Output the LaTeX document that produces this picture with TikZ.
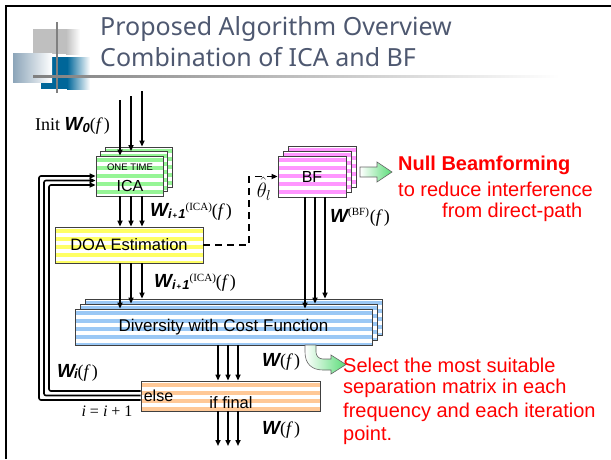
\documentclass[tikz,border=0pt]{standalone}
\usepackage{fontspec}
\setmainfont{Liberation Serif}
\setsansfont{Liberation Sans}
\newfontfamily\titlefont{Noto Sans}
\usetikzlibrary{arrows.meta,calc}

\definecolor{titleink}{RGB}{78,88,112}
\definecolor{icagreen}{RGB}{150,245,150}
\definecolor{bfpink}{RGB}{255,150,255}
\definecolor{doayellow}{RGB}{255,255,100}
\definecolor{divblue}{RGB}{155,200,245}
\definecolor{finorange}{RGB}{255,200,150}
\definecolor{arrowgreen}{RGB}{90,220,120}
\definecolor{logoblue}{RGB}{0,102,153}
\definecolor{logosky}{RGB}{140,165,185}

\newcommand{\fs}[1]{\fontsize{#1}{#1}\selectfont}
\newcommand{\Wb}{{\sffamily\bfseries\itshape W}}
\newcommand{\paren}[1]{{\rmfamily(\textit{#1}\kern1pt)}}
\newcommand{\WicaLabel}{\fs{19}\Wb\raisebox{-2pt}{\fs{13}\sffamily\bfseries\itshape i\kern1pt{\fs{8}\upshape+}\kern1pt1}\raisebox{6pt}{\fs{11}\rmfamily(ICA)}{\fs{18}\paren{f}}}

\tikzset{
  striped/.style={draw=black!75, line width=0.8pt, fill=white, inner sep=0pt,
    path picture={
      \foreach \k in {0,...,12}{
        \fill[#1] ([yshift={-\k*8pt-2pt}]path picture bounding box.north west)
          rectangle ([yshift={-\k*8pt-6pt}]path picture bounding box.north east);}}},
  icabox/.style={striped=icagreen, minimum width=67pt, minimum height=40pt},
  bfbox/.style={striped=bfpink, minimum width=68pt, minimum height=41pt},
  doabox/.style={striped=doayellow, minimum width=148pt, minimum height=36pt},
  divbox/.style={striped=divblue, minimum width=297pt, minimum height=36pt},
  finbox/.style={striped=finorange, minimum width=179pt, minimum height=30pt},
  boxtext/.style={font=\sffamily\fs{17}, inner sep=0pt},
  flow/.style={line width=1.6pt, -{Triangle[length=6pt,width=5pt]}},
  note/.style={font=\sffamily\fs{20}, text=red, anchor=west, inner sep=0pt},
  label/.style={inner sep=0pt},
  blockarrow/.style={draw=black!60, line width=0.6pt, left color=white, right color=arrowgreen}
}

\begin{document}
\begin{tikzpicture}[x=1pt,y=-1pt]
\useasboundingbox (0,0) rectangle (611,459);

% slide frame
\draw[line width=2pt] (6,459) -- (6,6) -- (611,6);

% title ornament
\fill[black!25] (33,29) rectangle (66,54);
\fill[left color=black!25, right color=white] (66,29) rectangle (80,54);
\fill[logoblue] (41,57) rectangle (67,89);
\fill[left color=logoblue, right color=white] (67,57) rectangle (90,89);
\fill[left color=logosky, right color=white] (13,53) rectangle (52,82);
\draw[black!50, line width=2pt] (57,22) -- (57,93);
\fill[left color=black!50, right color=white] (33,75) rectangle (560,77);

% title
\node[anchor=base west, inner sep=0pt, font=\titlefont\fs{25}, text=titleink] (title1) at (100,35) {Proposed Algorithm Overview};
\node[anchor=base west, inner sep=0pt, font=\titlefont\fs{25}, text=titleink] (title2) at (100,66) {Combination of ICA and BF};

% stacked processing blocks
\node[icabox] (ica3) at (138.5,167) {};
\node[icabox] (ica2) at (134,171.5) {};
\node[icabox] (ica1) at (129.5,176) {};
\node[boxtext, font=\sffamily\fs{9.5}] (onetime) at (130,167) {ONE TIME};
\node[boxtext, font=\sffamily\fs{16}] (icatext) at (130,186) {ICA};

\node[bfbox] (bf3) at (322,166.5) {};
\node[bfbox] (bf2) at (317,171.5) {};
\node[bfbox] (bf1) at (312,176.5) {\sffamily\fs{16}BF};

\node[doabox] (doa) at (129,245) {\sffamily\fs{16.5}DOA Estimation};

\node[divbox] (div3) at (233.5,317) {};
\node[divbox] (div2) at (228.5,322) {};
\node[divbox] (div1) at (223.5,327) {\sffamily\fs{17}Diversity with Cost Function};

\node[finbox] (fin) at (230.5,396) {};
\node[boxtext, font=\sffamily\fs{16}] (elsetext) at (158.5,396) {else};
\node[boxtext, font=\sffamily\fs{16.5}] (iftext) at (231,403) {if final};

% column positions of the triple signal lines
\coordinate (in1) at (120,100);
\coordinate (in2) at (131,96);
\coordinate (in3) at (142,91);
\coordinate (bc1) at (305,0);
\coordinate (bc2) at (315,0);
\coordinate (bc3) at (325,0);
\coordinate (dc1) at (218,0);
\coordinate (dc2) at (228,0);
\coordinate (dc3) at (238,0);
\coordinate (outlevel) at (0,446);

\foreach \i in {1,2,3}{
  \draw[flow] (in\i) -- (in\i |- ica\i.north);
  \draw[flow] (in\i |- ica1.south) -- (in\i |- doa.north);
  \draw[flow] (in\i |- doa.south) -- (in\i |- div\i.north);
  \draw[flow] (bc\i |- bf1.south) -- (bc\i |- div\i.north);
  \draw[flow] (dc\i |- div1.south) -- (dc\i |- fin.north);
  \draw[flow] (dc\i |- fin.south) -- (dc\i |- outlevel);
}

% feedback loop from "else" back to ICA
\coordinate (fb1) at (49,391);   \coordinate (ft1) at (49,185);
\coordinate (fb2) at (44,395.5); \coordinate (ft2) at (44,180.5);
\coordinate (fb3) at (39,400);   \coordinate (ft3) at (39,176);
\foreach \i in {1,2,3}{
  \draw[flow, rounded corners=2pt] (fb\i -| fin.west) -- (fb\i) -- (ft\i) -- (ft\i -| ica1.west);
}

% DOA result to beamformer
\coordinate (dashx) at (249,0);
\draw[line width=1.6pt, dash pattern=on 7pt off 5pt, -{Triangle[length=6pt,width=5pt]}]
  (doa.east) -- (dashx |- doa.east) -- (dashx |- bf1.west) -- (bf1.west);

% labels
\node[label, anchor=west] (initlbl) at (35,126) {{\fs{18}\rmfamily Init }\fs{19}\Wb\raisebox{-2pt}{\fs{13}\sffamily\bfseries\itshape 0}{\fs{18}\paren{f}}};
\node[label, anchor=west] (wica1) at (150,212) {\WicaLabel};
\node[label, anchor=west] (wica2) at (154,283) {\WicaLabel};
\node[label] (theta) at (264,189) {\fs{22}$\hat{\theta}_{l}$};
\node[label, anchor=west] (wbf) at (330,217) {\fs{19}\Wb\raisebox{7pt}{\fs{11}\rmfamily(BF)}\kern1pt{\fs{18}\paren{f}}};
\node[label, anchor=west] (wi) at (57,373) {\fs{19}\Wb\kern-1pt\raisebox{-1pt}{\fs{13}\sffamily\bfseries\itshape i}{\fs{18}\paren{f}}};
\node[label, anchor=west] (wsel) at (262,362) {\fs{19}\Wb{\fs{18}\paren{f}}};
\node[label, anchor=west] (wout) at (262,430) {\fs{19}\Wb{\fs{18}\paren{f}}};
\node[label] (incr) at (107,411) {\fs{16}\rmfamily\itshape i\/ \upshape= \itshape i\/ \upshape+ 1};

% explanatory notes
\draw[blockarrow] (360,167) -- (377,167) -- (377,162) -- (392,172) -- (377,182) -- (377,177) -- (360,177) -- cycle;
\node[note, font=\sffamily\bfseries\fs{20}] (nb1) at (398,165) {Null Beamforming};
\node[note] (nb2) at (398,189) {to reduce interference};
\node[note] (nb3) at (442,212) {from direct-path};

\draw[blockarrow] (305,345) -- (305,352) .. controls (305,364) and (312,370) .. (323,370)
  -- (331,370) -- (331,374) -- (346,364.5) -- (331,355) -- (331,359) -- (323,359)
  .. controls (319,359) and (316,356) .. (316,352) -- (316,345) -- cycle;
\node[note] (sel1) at (343,365) {Select the most suitable};
\node[note] (sel2) at (343,388.5) {separation matrix in each};
\node[note] (sel3) at (343,412) {frequency and each iteration};
\node[note] (sel4) at (343,435.5) {point.};
\end{tikzpicture}
\end{document}
